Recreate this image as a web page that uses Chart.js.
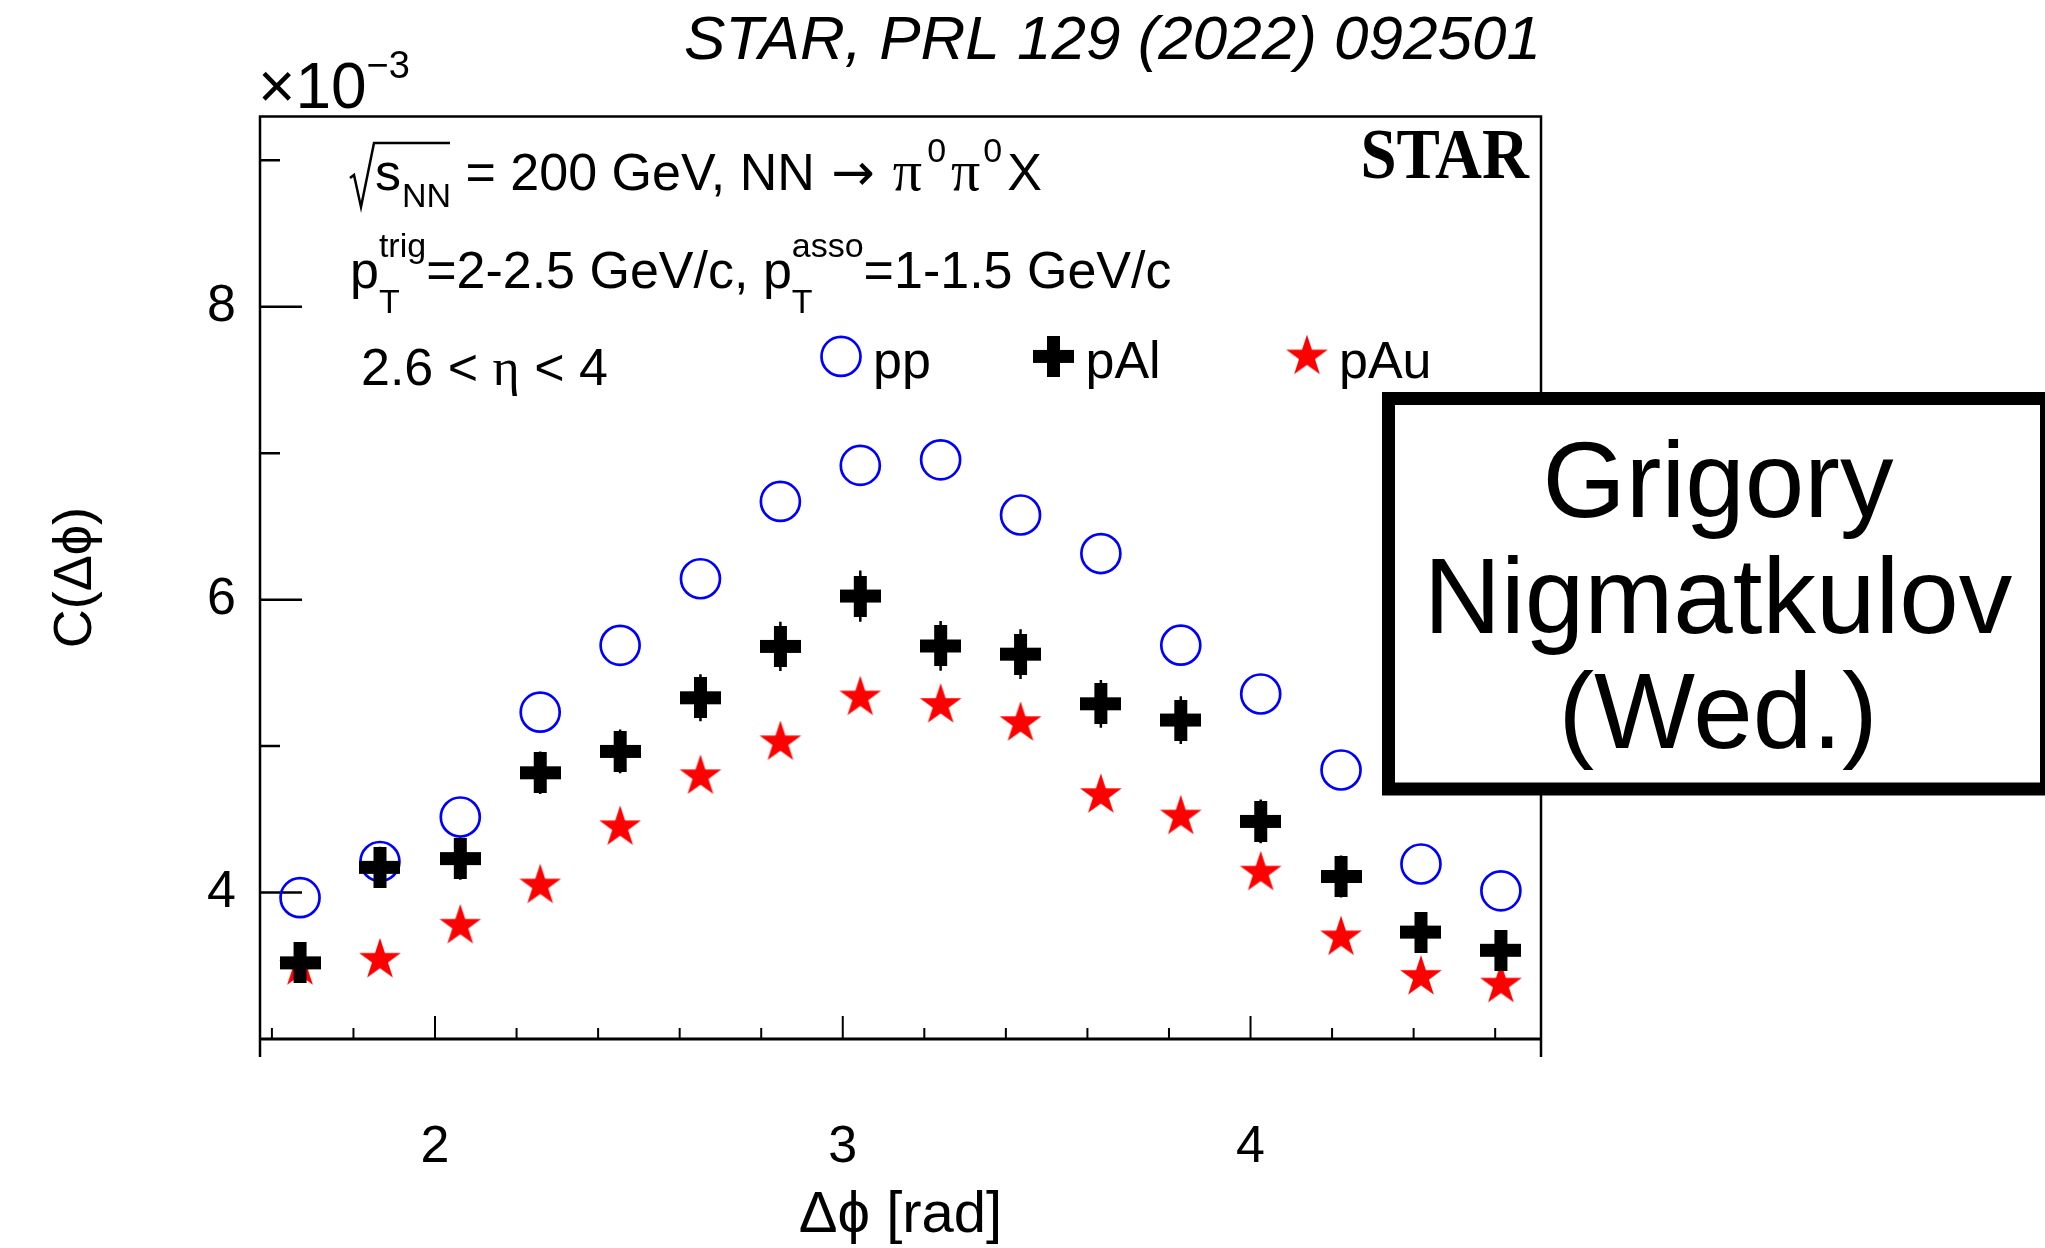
<!DOCTYPE html>
<html>
<head>
<meta charset="utf-8">
<title>STAR C(Δϕ) pp, pAl, pAu</title>
<script src="https://cdn.jsdelivr.net/npm/chart.js@4.4.1/dist/chart.umd.min.js"></script>
<style>
    html, body { margin: 0; padding: 0; background: #fff; }
    #wrap { width: 2045px; height: 1248px; }
</style>
</head>
<body>
<div id="wrap"><canvas id="grafico" width="2045" height="1248"></canvas></div>
<script>
/* C(Δϕ) para pp, pAl e pAu - STAR PRL 129 (2022) 092501 */

// centros dos bins em Δϕ (rad)
const dphi = [1.669, 1.865, 2.062, 2.258, 2.454, 2.651, 2.847, 3.043,
              3.240, 3.436, 3.633, 3.829, 4.025, 4.222, 4.418, 4.614];

// C(Δϕ) em unidades de 1e-3
const ppVals  = [3.965, 4.212, 4.516, 5.232, 5.688, 6.143, 6.671, 6.917,
                 6.955, 6.578, 6.315, 5.689, 5.356, 4.837, 4.195, 4.012];
const pAlVals = [3.520, 4.172, 4.232, 4.818, 4.964, 5.330, 5.681, 6.025,
                 5.684, 5.628, 5.289, 5.178, 4.486, 4.110, 3.730, 3.606];
const pAlErr  = [0.13, 0.14, 0.145, 0.145, 0.15, 0.16, 0.168, 0.175,
                 0.17, 0.17, 0.163, 0.163, 0.149, 0.143, 0.137, 0.135];
const pAuVals = [3.505, 3.555, 3.787, 4.062, 4.460, 4.808, 5.040, 5.346,
                 5.295, 5.171, 4.679, 4.533, 4.150, 3.708, 3.438, 3.385];

const xTickLabels = [2, 3, 4];
const yTickLabels = [4, 6, 8];

const SANS = '"Liberation Sans", Arial, Helvetica, "DejaVu Sans", sans-serif';
const SERIF = '"Liberation Serif", "Times New Roman", "DejaVu Serif", serif';

function pontos(vals) {
    return vals.map((v, i) => ({ x: dphi[i], y: v }));
}

// marcador cruz cheia (estilo ROOT 34)
function marcaCruz(lado, braco, cor) {
    const c = document.createElement('canvas');
    c.width = lado; c.height = lado;
    const g = c.getContext('2d');
    const o = (lado - braco) / 2;
    g.fillStyle = cor;
    g.fillRect(o, 0, braco, lado);
    g.fillRect(0, o, lado, braco);
    return c;
}

// marcador estrela de 5 pontas (estilo ROOT 29)
function marcaEstrela(R, cor) {
    const lado = Math.ceil(2 * R) + 4;
    const c = document.createElement('canvas');
    c.width = lado; c.height = lado;
    const g = c.getContext('2d');
    const cx = lado / 2, cy = lado / 2 + 0.0955 * R;
    const r = R * 0.382;
    g.beginPath();
    for (let k = 0; k < 10; k++) {
        const raio = k % 2 === 0 ? R : r;
        const ang = -Math.PI / 2 + k * Math.PI / 5;
        const px = cx + raio * Math.cos(ang), py = cy + raio * Math.sin(ang);
        if (k === 0) g.moveTo(px, py); else g.lineTo(px, py);
    }
    g.closePath();
    g.fillStyle = cor;
    g.fill();
    return c;
}

const cruz = marcaCruz(41, 13, '#000000');
const estrela = marcaEstrela(21.9, '#ff0000');

// escreve um trecho e devolve o x final
function run(ctx, txt, x, y, font) {
    ctx.font = font;
    ctx.fillText(txt, x, y);
    return x + ctx.measureText(txt).width;
}

// moldura, ticks internos e barras de erro
const molduraPlugin = {
    id: 'moldura',
    beforeDatasetsDraw(chart) {
        const { ctx, chartArea: a, scales: { x, y } } = chart;
        ctx.save();
        ctx.strokeStyle = '#000';
        ctx.lineWidth = 2.5;
        ctx.beginPath();
        ctx.moveTo(a.left, a.bottom + 18);
        ctx.lineTo(a.left, a.top);
        ctx.lineTo(a.right, a.top);
        ctx.lineTo(a.right, a.bottom + 18);
        ctx.stroke();

        ctx.lineWidth = 3;
        ctx.beginPath();
        ctx.moveTo(a.left, a.bottom);
        ctx.lineTo(a.right, a.bottom);
        ctx.stroke();

        // ticks do eixo x (a cada 0.2)
        ctx.lineWidth = 2;
        ctx.beginPath();
        for (let k = 8; k <= 23; k++) {
            const v = k / 5;
            const px = x.getPixelForValue(v);
            const len = (k % 5 === 0) ? 23 : 11;
            ctx.moveTo(px, a.bottom);
            ctx.lineTo(px, a.bottom - len);
        }
        ctx.stroke();

        // ticks do eixo y (a cada 1)
        ctx.lineWidth = 2.5;
        ctx.beginPath();
        for (let v = 4; v <= 9; v++) {
            const py = y.getPixelForValue(v);
            const len = yTickLabels.includes(v) ? 42 : 20;
            ctx.moveTo(a.left, py);
            ctx.lineTo(a.left + len, py);
        }
        ctx.stroke();

        // barras de erro pAl
        ctx.lineWidth = 2.5;
        ctx.beginPath();
        pAlVals.forEach((v, i) => {
            const px = x.getPixelForValue(dphi[i]);
            ctx.moveTo(px, y.getPixelForValue(v - pAlErr[i]));
            ctx.lineTo(px, y.getPixelForValue(v + pAlErr[i]));
        });
        ctx.stroke();
        ctx.restore();
    }
};

// textos dentro do quadro, legenda, STAR, x10^-3 e caixa do palestrante
const textoPlugin = {
    id: 'textos',
    afterDraw(chart) {
        const { ctx, chartArea: a } = chart;
        const F52 = '52px ' + SANS;
        const F34 = '34px ' + SANS;
        const S52 = '52px ' + SERIF;
        const PI = '58px ' + SERIF;
        ctx.save();
        ctx.fillStyle = '#000';
        ctx.strokeStyle = '#000';
        ctx.textAlign = 'left';
        ctx.textBaseline = 'alphabetic';

        // x10^-3
        let xx = run(ctx, '×10', a.left - 2, 108, '64px ' + SANS);
        run(ctx, '−3', xx, 78, '38px ' + SANS);

        // linha 1: sqrt(s_NN) = 200 GeV, NN -> pi0 pi0 X
        let b = 190;
        ctx.lineWidth = 2.5;
        ctx.beginPath();
        ctx.moveTo(350, 178);
        ctx.lineTo(354, 175);
        ctx.lineTo(361, 207);
        ctx.lineTo(374, 143);
        ctx.lineTo(450, 143);
        ctx.stroke();
        xx = run(ctx, 's', 375, b, F52);
        xx = run(ctx, 'NN', xx + 1, b + 17, F34);
        xx = run(ctx, ' = 200 GeV, NN ', xx, b, F52);
        xx = run(ctx, '→', xx + 2, b, '52px "DejaVu Sans", ' + SANS);
        xx = run(ctx, 'π', xx + 18, b, PI);
        xx = run(ctx, '0', xx + 5, b - 28, F34);
        xx = run(ctx, 'π', xx + 5, b, PI);
        xx = run(ctx, '0', xx + 3, b - 28, F34);
        run(ctx, 'X', xx + 5, b, F52);

        // linha 2: pT trig / asso
        b = 288;
        xx = run(ctx, 'p', 350, b, F52);
        let w1 = run(ctx, 'T', xx, b + 25, F34) - xx;
        let w2 = run(ctx, 'trig', xx, b - 31, F34) - xx;
        xx = run(ctx, '=2-2.5 GeV/c, p', xx + Math.max(w1, w2), b, F52);
        w1 = run(ctx, 'T', xx, b + 25, F34) - xx;
        w2 = run(ctx, 'asso', xx, b - 31, F34) - xx;
        run(ctx, '=1-1.5 GeV/c', xx + Math.max(w1, w2), b, F52);

        // linha 3: eta
        b = 385;
        xx = run(ctx, '2.6 < ', 361, b, F52);
        xx = run(ctx, 'η', xx, b, S52);
        run(ctx, ' < 4', xx, b, F52);

        // legenda
        const itens = [
            { ds: chart.data.datasets[0], mx: a.left + 581, my: a.top + 240 },
            { ds: chart.data.datasets[1], mx: a.left + 793.5, my: a.top + 240 },
            { ds: chart.data.datasets[2], mx: a.left + 1047, my: a.top + 238 }
        ];
        itens.forEach(it => {
            const st = it.ds.pointStyle;
            if (st === 'circle') {
                ctx.lineWidth = it.ds.borderWidth;
                ctx.strokeStyle = it.ds.borderColor;
                ctx.beginPath();
                ctx.arc(it.mx, it.my, it.ds.pointRadius, 0, 2 * Math.PI);
                ctx.stroke();
            } else {
                ctx.drawImage(st, it.mx - st.width / 2, it.my - st.height / 2);
            }
            ctx.fillStyle = '#000';
            run(ctx, it.ds.label, it.mx + 32, a.top + 262, F52);
        });

        // STAR
        ctx.save();
        ctx.translate(a.right - 12, 178);
        ctx.scale(1, 1.09);
        ctx.textAlign = 'right';
        ctx.font = 'bold 65px ' + SERIF;
        ctx.fillText('STAR', 0, 0);
        ctx.restore();

        // caixa do palestrante
        ctx.fillStyle = '#fff';
        ctx.fillRect(1382, 392, 700, 403);
        ctx.lineWidth = 13;
        ctx.strokeStyle = '#000';
        ctx.strokeRect(1388.5, 398.5, 658, 390.5);
        ctx.fillStyle = '#000';
        ctx.textAlign = 'center';
        ctx.font = '107px ' + SANS;
        ctx.fillText('Grigory', 1718, 517);
        ctx.fillText('Nigmatkulov', 1718, 633);
        ctx.fillText('(Wed.)', 1718, 748);
        ctx.restore();
    }
};

const ctx = document.getElementById('grafico').getContext('2d');

const meuGrafico = new Chart(ctx, {
    type: 'scatter',
    data: {
        datasets: [
            {
                label: 'pp',
                data: pontos(ppVals),
                pointStyle: 'circle',
                pointRadius: 19.5,
                borderWidth: 2.7,
                borderColor: '#0000ff',
                backgroundColor: 'rgba(0,0,0,0)',
                order: 3
            },
            {
                label: 'pAl',
                data: pontos(pAlVals),
                pointStyle: cruz,
                pointRadius: 20,
                order: 1
            },
            {
                label: 'pAu',
                data: pontos(pAuVals),
                pointStyle: estrela,
                pointRadius: 21,
                order: 2
            }
        ]
    },
    options: {
        responsive: false,
        animation: false,
        events: [],
        layout: { padding: { left: 0, right: 504, top: 0, bottom: 0 } },
        plugins: {
            legend: { display: false },
            tooltip: { enabled: false },
            title: {
                display: true,
                text: 'STAR, PRL 129 (2022) 092501',
                align: 'end',
                color: '#000',
                font: { family: SANS, size: 62, style: 'italic', weight: 'normal', lineHeight: 1.2 },
                padding: { top: 5, bottom: 37 }
            }
        },
        scales: {
            x: {
                type: 'linear',
                min: Math.PI / 2,
                max: 3 * Math.PI / 2,
                afterFit: s => { s.height = 209; },
                afterBuildTicks: s => { s.ticks = xTickLabels.map(v => ({ value: v })); },
                grid: { display: false, drawTicks: false, tickLength: 0 },
                border: { display: false },
                ticks: { color: '#000', font: { family: SANS, size: 52 }, padding: 77, maxRotation: 0 },
                title: {
                    display: true,
                    text: 'Δϕ [rad]',
                    color: '#000',
                    font: { family: SANS, size: 58 },
                    padding: { top: 0, bottom: -3 }
                }
            },
            y: {
                type: 'linear',
                min: 3.0,
                max: 9.3,
                afterFit: s => { s.width = 260; },
                afterBuildTicks: s => { s.ticks = yTickLabels.map(v => ({ value: v })); },
                grid: { display: false, drawTicks: false, tickLength: 0 },
                border: { display: false },
                ticks: { color: '#000', font: { family: SANS, size: 52 }, padding: 24 },
                title: {
                    display: true,
                    text: 'C(Δϕ)',
                    color: '#000',
                    font: { family: SANS, size: 54 },
                    padding: { top: 44, bottom: 0 }
                }
            }
        }
    },
    plugins: [molduraPlugin, textoPlugin]
});
</script>
</body>
</html>
